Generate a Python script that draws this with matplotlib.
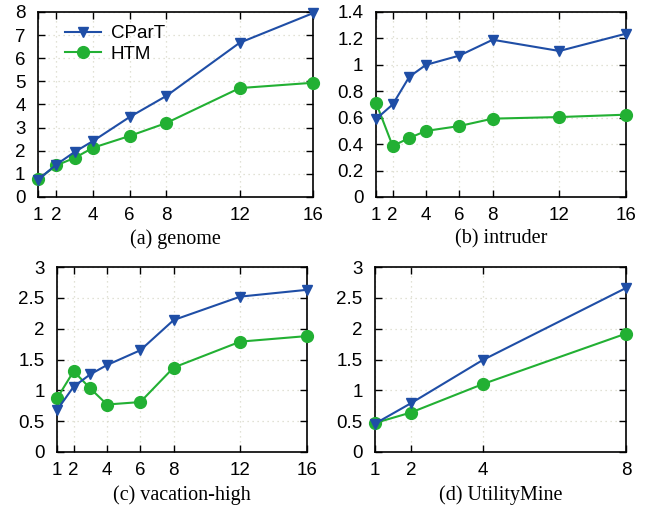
import matplotlib
matplotlib.use("Agg")
import matplotlib.pyplot as plt

threads16 = [1, 2, 3, 4, 6, 8, 12, 16]
threads8 = [1, 2, 4, 8]

genome_cpart = [0.75, 1.40, 1.95, 2.42, 3.46, 4.37, 6.67, 7.95]
genome_htm = [0.76, 1.37, 1.69, 2.13, 2.64, 3.20, 4.71, 4.94]
intruder_cpart = [0.59, 0.70, 0.91, 1.00, 1.07, 1.19, 1.105, 1.236]
intruder_htm = [0.714, 0.386, 0.447, 0.50, 0.537, 0.593, 0.605, 0.623]
vacation_cpart = [0.68, 1.06, 1.26, 1.41, 1.65, 2.14, 2.52, 2.63]
vacation_htm = [0.87, 1.31, 1.03, 0.77, 0.81, 1.37, 1.79, 1.88]
utility_cpart = [0.46, 0.79, 1.49, 2.66]
utility_htm = [0.47, 0.64, 1.10, 1.92]

titles = ["(a) genome", "(b) intruder", "(c) vacation-high", "(d) UtilityMine"]
xticks16 = [1, 2, 4, 6, 8, 12, 16]
xticks8 = [1, 2, 4, 8]

BLUE = "#1f4ea6"
GREEN = "#22b033"

W, H = 649, 509
fig = plt.figure(figsize=(W / 100, H / 100), dpi=100)

def rect(l, r, t, b):
    return [l / W, 1 - b / H, (r - l) / W, (b - t) / H]

panels = [
    dict(r=rect(38, 313, 12, 197), x=threads16, c=genome_cpart, h=genome_htm,
         yl=(0, 8), yt=list(range(0, 9)), xt=xticks16, xl=(1, 16), ylab=[str(v) for v in range(0, 9)]),
    dict(r=rect(376, 626, 12, 197), x=threads16, c=intruder_cpart, h=intruder_htm,
         yl=(0, 1.4), yt=[0, 0.2, 0.4, 0.6, 0.8, 1.0, 1.2, 1.4], xt=xticks16, xl=(1, 16),
         ylab=["0", "0.2", "0.4", "0.6", "0.8", "1", "1.2", "1.4"]),
    dict(r=rect(57, 307, 267, 452), x=threads16, c=vacation_cpart, h=vacation_htm,
         yl=(0, 3), yt=[0, 0.5, 1, 1.5, 2, 2.5, 3], xt=xticks16, xl=(1, 16),
         ylab=["0", "0.5", "1", "1.5", "2", "2.5", "3"]),
    dict(r=rect(375, 626, 267, 452), x=threads8, c=utility_cpart, h=utility_htm,
         yl=(0, 3), yt=[0, 0.5, 1, 1.5, 2, 2.5, 3], xt=xticks8, xl=(1, 8),
         ylab=["0", "0.5", "1", "1.5", "2", "2.5", "3"]),
]

for i, p in enumerate(panels):
    ax = fig.add_axes(p["r"])
    ax.plot(p["x"], p["h"], color=GREEN, lw=1.5, marker="o", ms=8.5, clip_on=False,
            zorder=3, label="HTM")
    ax.plot(p["x"], p["c"], color=BLUE, lw=1.5, marker="v", ms=7.5, clip_on=False,
            zorder=4, label="CParT")
    ax.set_xlim(*p["xl"])
    ax.set_ylim(*p["yl"])
    ax.set_xticks(p["xt"])
    ax.set_xticklabels([str(v) for v in p["xt"]], fontfamily="Liberation Sans", fontsize=13.5)
    ax.set_yticks(p["yt"])
    ax.set_yticklabels(p["ylab"], fontfamily="Liberation Sans", fontsize=13.5)
    ax.tick_params(direction="in", top=True, right=True, length=5, width=1)
    ax.tick_params(axis="y", pad=9)
    ax.tick_params(axis="x", pad=7)
    for s in ax.spines.values():
        s.set_linewidth(1.2)
    ax.grid(True, color="#d8d8c8", linestyle=(0, (1, 3)), linewidth=0.9)
    ax.set_xlabel(titles[i], fontfamily="Liberation Serif", fontsize=14.5,
                  labelpad=4 if i < 2 else 5)
    if i == 0:
        h, l = ax.get_legend_handles_labels()
        ax.legend(h[::-1], l[::-1], loc="upper left", frameon=False,
                  prop=dict(family="Liberation Sans", size=13.5), handlelength=1.9,
                  handletextpad=0.55, borderaxespad=0.3, labelspacing=0.18,
                  bbox_to_anchor=(0.05, 1.0))

fig.savefig("out.png", dpi=100)
